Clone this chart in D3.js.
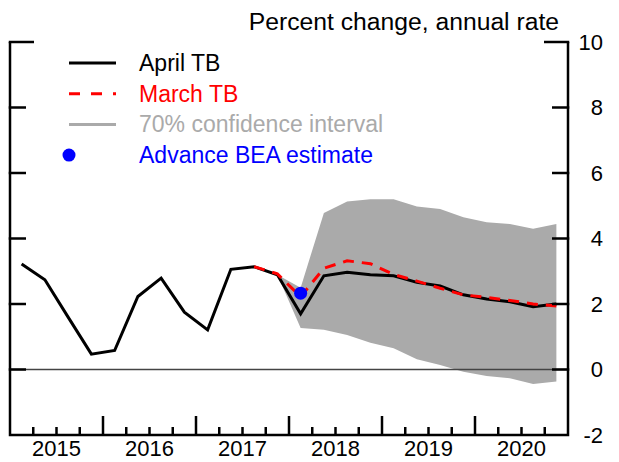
<!DOCTYPE html>
<html>
<head>
<meta charset="utf-8">
<script src="https://cdn.jsdelivr.net/npm/d3@7"></script>
<style>
  html, body { margin: 0; padding: 0; background: #fff; }
  svg { display: block; font-family: "Liberation Sans", Arial, sans-serif; }
</style>
</head>
<body>
<svg id="chart" width="619" height="462"></svg>
<script>
// Quarterly real GDP growth, 2015Q1 – 2020Q4
const years = [2015, 2016, 2017, 2018, 2019, 2020];
const quarters = years.flatMap(y => [1, 2, 3, 4].map(q => `${y}Q${q}`));

// April Tealbook (history + projection)
const aprilTB = [3.22, 2.74, 1.60, 0.47, 0.58, 2.23, 2.79, 1.75,
                 1.21, 3.06, 3.14, 2.89, 1.70, 2.86, 2.97, 2.89,
                 2.86, 2.66, 2.55, 2.28, 2.15, 2.07, 1.92, 2.00];

// March Tealbook projection, from 2017Q3 onward
const marchStart = "2017Q3";
const marchTB = [3.14, 2.92, 2.22, 3.09, 3.32, 3.23, 2.90, 2.70, 2.48,
                 2.28, 2.20, 2.11, 2.00, 1.94];

// 70% confidence interval, from 2017Q4 onward
const bandStart = "2017Q4";
const bandLower = [2.89, 1.27, 1.21, 1.05, 0.82, 0.65, 0.31, 0.14,
                   -0.07, -0.20, -0.27, -0.44, -0.37];
const bandUpper = [2.89, 2.50, 4.78, 5.13, 5.20, 5.20, 4.98, 4.90,
                   4.65, 4.50, 4.44, 4.30, 4.44];

// Advance BEA estimate
const beaQuarter = "2018Q1";
const beaValue = 2.33;

const yTicks = [-2, 0, 2, 4, 6, 8, 10];
const legendItems = [
  { label: "April TB", color: "#000", type: "line" },
  { label: "March TB", color: "#ff0000", type: "dash" },
  { label: "70% confidence interval", color: "#aaaaaa", type: "line" },
  { label: "Advance BEA estimate", color: "#0000ff", type: "dot" }
];

const svg = d3.select("#chart");
const plotL = 10, plotR = 568, plotT = 42, plotB = 435;

const x = d3.scaleBand().domain(quarters).range([plotL, plotR]).padding(0);
const xc = q => x(q) + x.bandwidth() / 2;
const y = d3.scaleLinear().domain([-2, 10]).range([plotB, plotT]);

const seriesFrom = (start, vals) => {
  const i0 = quarters.indexOf(start);
  return vals.map((v, i) => ({ q: quarters[i0 + i], v }));
};

// Confidence band
const band = seriesFrom(bandStart, bandLower).map((d, i) => ({ q: d.q, lo: d.v, hi: bandUpper[i] }));
svg.append("path")
  .datum(band)
  .attr("fill", "#aaaaaa")
  .attr("d", d3.area().x(d => xc(d.q)).y0(d => y(d.lo)).y1(d => y(d.hi)));

// Zero line
svg.append("line")
  .attr("x1", plotL).attr("x2", plotR)
  .attr("y1", y(0)).attr("y2", y(0))
  .attr("stroke", "#444").attr("stroke-width", 1.5);

const line = d3.line().x(d => xc(d.q)).y(d => y(d.v));

// April TB
svg.append("path")
  .datum(quarters.map((q, i) => ({ q, v: aprilTB[i] })))
  .attr("fill", "none").attr("stroke", "#000").attr("stroke-width", 3)
  .attr("stroke-linejoin", "miter")
  .attr("d", line);

// March TB
svg.append("path")
  .datum(seriesFrom(marchStart, marchTB))
  .attr("fill", "none").attr("stroke", "#ff0000").attr("stroke-width", 3)
  .attr("stroke-dasharray", "11,8")
  .attr("d", line);

// Advance BEA estimate
svg.append("circle")
  .attr("cx", xc(beaQuarter)).attr("cy", y(beaValue)).attr("r", 6.5)
  .attr("fill", "#0000ff");

// Axes frame
const axis = svg.append("g").attr("stroke", "#000").attr("stroke-width", 2.5).attr("fill", "none");
axis.append("path").attr("d", `M${plotL},${plotT}V${plotB}H${plotR}V${plotT}`);

// Y ticks (both sides, inward)
yTicks.forEach(t => {
  const len = t === 10 ? 24 : 16;
  if (t === -2) return;
  axis.append("line").attr("x1", plotL - 1.25).attr("x2", plotL + len).attr("y1", y(t)).attr("y2", y(t));
  axis.append("line").attr("x1", plotR + 1.25).attr("x2", plotR - len).attr("y1", y(t)).attr("y2", y(t));
});

// X ticks: quarter boundaries (minor) and year boundaries (major)
quarters.forEach((q, i) => {
  if (i === 0) return;
  const major = i % 4 === 0;
  axis.append("line")
    .attr("x1", x(q)).attr("x2", x(q))
    .attr("y1", plotB).attr("y2", plotB - (major ? 19 : 8));
});

// Right axis labels
svg.append("g").selectAll("text")
  .data(yTicks).join("text")
  .attr("x", 603).attr("y", d => y(d)).attr("dy", "0.36em")
  .attr("text-anchor", "end").attr("font-size", 22).attr("fill", "#000")
  .text(d => d);

// Year labels
svg.append("g").selectAll("text")
  .data(years).join("text")
  .attr("x", d => (x(`${d}Q1`) + x(`${d}Q4`) + x.bandwidth()) / 2)
  .attr("y", 456)
  .attr("text-anchor", "middle").attr("font-size", 22).attr("fill", "#000")
  .text(d => d);

// Units title
svg.append("text")
  .attr("x", 559).attr("y", 30)
  .attr("text-anchor", "end").attr("font-size", 24.7).attr("fill", "#000")
  .text("Percent change, annual rate");

// Legend
const lg = svg.append("g");
legendItems.forEach((d, i) => {
  const cy = 63 + i * 30.7;
  if (d.type === "dot") {
    lg.append("circle").attr("cx", 69).attr("cy", cy).attr("r", 6.5).attr("fill", d.color);
  } else {
    lg.append("line")
      .attr("x1", 69).attr("x2", 116).attr("y1", cy).attr("y2", cy)
      .attr("stroke", d.color).attr("stroke-width", 3)
      .attr("stroke-dasharray", d.type === "dash" ? "11,11" : null);
  }
  lg.append("text")
    .attr("x", 139).attr("y", cy + 8)
    .attr("font-size", 23).attr("fill", d.color)
    .text(d.label);
});
</script>
</body>
</html>
